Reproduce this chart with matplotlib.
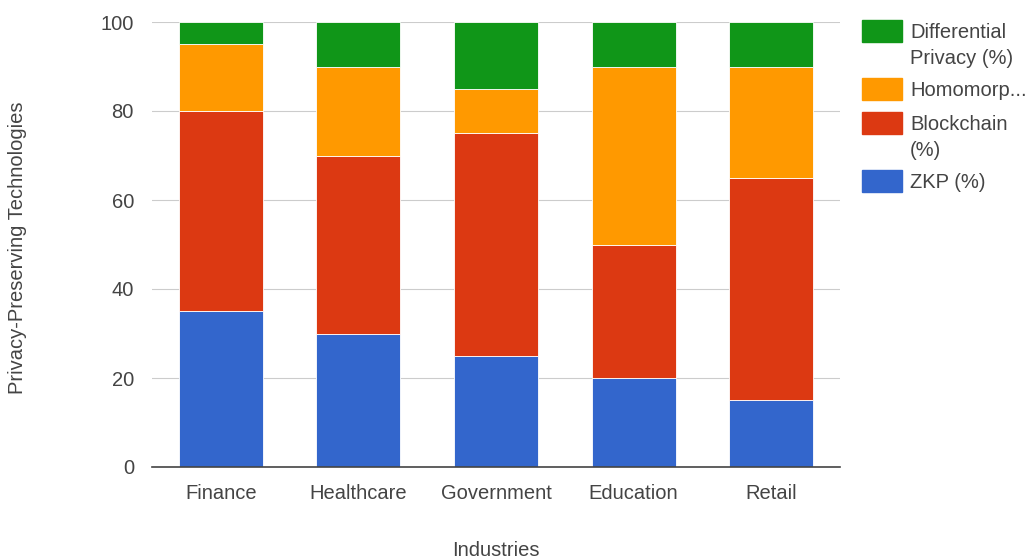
import matplotlib.pyplot as plt
import numpy as np
from matplotlib.patches import Rectangle

plt.rcParams['font.family'] = ['Liberation Sans', 'DejaVu Sans']

industries = ['Finance', 'Healthcare', 'Government', 'Education', 'Retail']
zkp = [35, 30, 25, 20, 15]
blockchain = [45, 40, 50, 30, 50]
homomorphic = [15, 20, 10, 40, 25]
diff_privacy = [5, 10, 15, 10, 10]

series = [zkp, blockchain, homomorphic, diff_privacy]
colors = ['#3366cc', '#dc3912', '#ff9900', '#109618']
legend_labels = ['ZKP (%)', 'Blockchain\n(%)', 'Homomorp...', 'Differential\nPrivacy (%)']

W, H = 1028, 560
txt = '#444444'
fs = 14.5

fig = plt.figure(figsize=(W / 100, H / 100), dpi=100)
ax = fig.add_axes([152 / W, 1 - 467 / H, (840 - 152) / W, (467 - 22) / H])

x = np.arange(len(industries))
bottom = np.zeros(len(industries))
for vals, c in zip(series, colors):
    ax.bar(x, vals, bottom=bottom, width=0.61, color=c, edgecolor='white', linewidth=0.6, zorder=3)
    bottom += np.array(vals)

ax.set_xlim(-0.5, 4.5)
ax.set_ylim(0, 100)
ax.set_yticks([0, 20, 40, 60, 80, 100])
ax.set_xticks(x)
ax.set_xticklabels(industries)
ax.yaxis.grid(True, color='#cccccc', linewidth=0.8, zorder=0)
ax.axhline(0, color='#444444', linewidth=1.2, zorder=4, clip_on=False)
for s in ax.spines.values():
    s.set_visible(False)
ax.tick_params(length=0, labelsize=fs, colors=txt)
ax.tick_params(axis='x', pad=12)
ax.tick_params(axis='y', pad=13)

fig.text(496 / W, 1 - 551 / H, 'Industries', fontsize=fs, color=txt, ha='center', va='center')
fig.text(18 / W, 1 - 248 / H, 'Privacy-Preserving Technologies', rotation=90, fontsize=fs,
         color=txt, ha='center', va='center')

# legend drawn by hand so that the swatch lines up with the first text line
y = 20
for label, c in zip(legend_labels[::-1], colors[::-1]):
    fig.add_artist(Rectangle((862 / W, 1 - (y + 22) / H), 40 / W, 22 / H,
                             transform=fig.transFigure, color=c))
    fig.text(910 / W, 1 - (y + 3) / H, label, fontsize=fs, color=txt, ha='left', va='top',
             linespacing=1.45)
    y += 34 + 24 * label.count('\n')

fig.savefig('out.png', dpi=100)
